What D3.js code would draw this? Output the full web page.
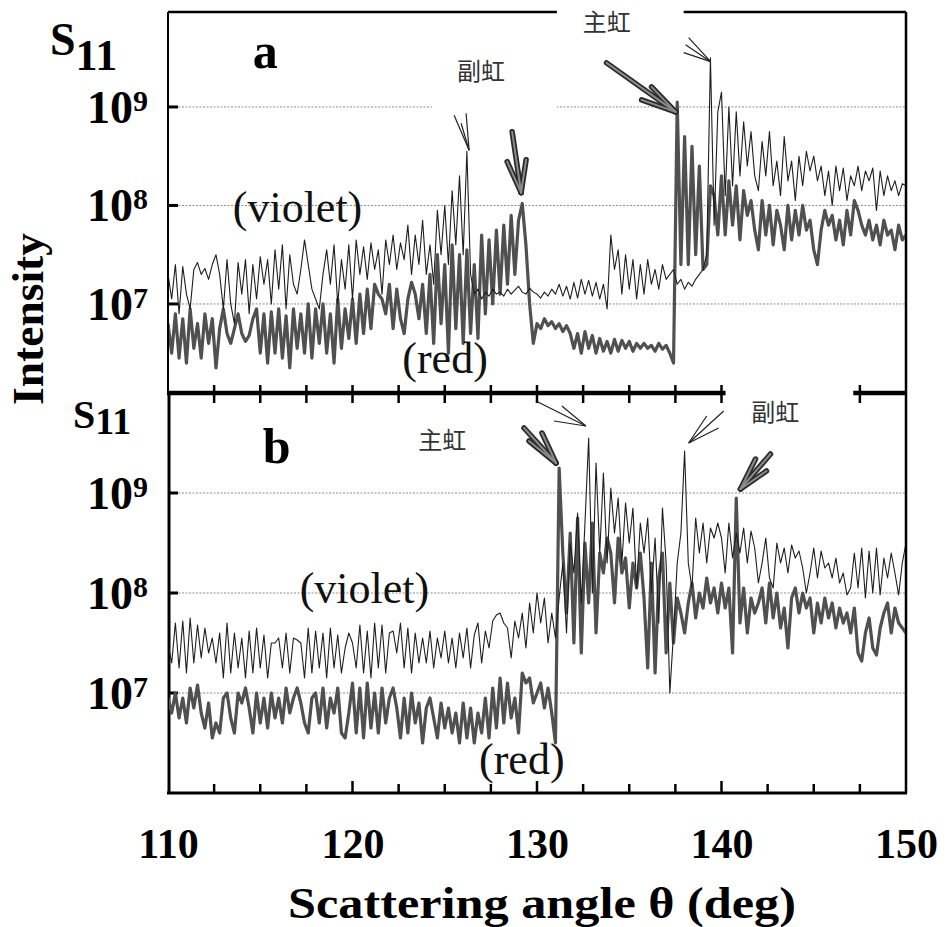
<!DOCTYPE html>
<html><head><meta charset="utf-8">
<script src="https://cdn.jsdelivr.net/npm/d3@7"></script>
<style>body{margin:0;background:#fff}</style>
</head><body>
<svg id="chart" width="946" height="927"></svg>
<script>
// ---------- DATA (log10 of S11 intensity, sampled every 0.2 deg from 110 to 150) ----------
const angleStart = 110, angleStep = 0.2;

const violetA_log10 = [
 7.30,7.05,7.40,6.90,7.38,7.10,6.95,7.35,7.42,7.30,
 7.36,7.25,7.40,7.50,7.30,6.95,7.45,7.00,6.80,7.42,
 7.10,7.45,6.90,7.40,7.05,7.48,7.20,7.45,7.00,7.55,
 7.15,7.60,6.95,7.50,7.20,7.10,7.35,7.65,7.40,7.15,
 7.05,6.95,7.30,7.55,7.20,7.60,7.00,7.45,7.15,7.60,
 7.05,7.65,7.30,7.58,7.25,7.62,7.35,7.55,7.10,7.65,
 7.40,7.70,7.35,7.62,7.45,7.80,7.30,7.70,7.40,7.85,
 7.30,7.60,7.20,7.95,7.50,8.00,7.40,8.15,7.60,8.30,
 7.50,8.55,7.30,7.10,7.15,7.05,7.12,7.08,7.15,7.10,
 7.12,7.08,7.15,7.10,7.14,7.18,7.12,7.10,7.16,7.12,
 7.10,7.06,7.12,7.08,7.15,7.10,7.20,7.08,7.18,7.05,
 7.22,7.06,7.25,7.10,7.24,7.08,7.22,7.05,7.20,6.95,
 7.70,7.35,7.55,7.10,7.50,7.15,7.45,7.05,7.40,7.10,
 7.45,7.20,7.35,7.15,7.40,7.25,7.30,7.35,7.20,7.25,
 7.15,7.22,7.18,7.25,7.30,7.35,7.50,9.50,7.80,8.95,
 9.15,8.10,9.00,8.20,8.95,8.30,8.85,8.40,8.75,8.30,
 8.15,8.65,8.30,8.75,8.20,8.45,8.10,8.70,8.25,8.45,
 8.05,8.50,8.20,8.55,8.35,8.50,8.25,8.40,8.10,8.35,
 8.00,8.40,8.15,8.38,8.05,8.30,8.20,8.40,8.15,8.35,
 8.25,8.38,7.95,8.35,8.10,8.30,8.15,8.25,8.10,8.22,
 8.20
];
const redA_log10 = [
 6.80,6.50,6.90,6.45,6.85,6.40,6.95,6.55,6.80,6.45,
 6.90,6.60,6.85,6.35,6.75,6.95,6.70,6.60,6.75,6.90,
 6.70,6.62,6.68,6.85,6.95,6.50,6.90,6.40,6.92,6.50,
 6.95,6.45,6.88,6.35,6.95,6.55,6.90,6.50,7.00,6.45,
 6.95,6.60,7.00,6.50,6.90,6.40,7.05,6.55,6.95,6.65,
 7.05,6.60,7.10,6.70,7.15,6.75,7.20,7.10,7.05,6.90,
 7.20,6.75,7.15,6.85,6.70,7.05,7.22,7.10,6.85,7.20,
 6.70,7.30,6.60,7.50,6.80,7.40,6.50,7.60,6.75,7.50,
 6.60,7.55,6.70,7.40,6.65,7.70,6.90,7.65,7.00,7.75,
 7.10,7.80,7.20,7.90,7.30,7.85,8.02,7.60,7.00,6.60,
 6.80,6.75,6.85,6.78,6.82,6.75,6.80,6.72,6.78,6.70,
 6.55,6.70,6.50,6.72,6.55,6.68,6.50,6.65,6.52,6.62,
 6.50,6.64,6.52,6.63,6.55,6.62,6.52,6.60,6.55,6.60,
 6.55,6.58,6.52,6.60,6.54,6.58,6.50,6.40,9.05,7.40,
 8.70,7.40,8.60,7.50,8.40,7.35,7.40,8.20,8.10,7.70,
 8.30,7.70,8.25,7.80,8.20,7.65,8.15,7.90,8.05,7.75,
 7.55,8.05,7.70,8.00,7.60,7.95,7.80,7.55,8.00,7.65,
 7.95,7.70,8.00,7.75,7.85,7.55,7.40,7.75,7.95,7.80,
 7.90,7.65,7.85,7.60,7.95,7.70,8.05,7.95,7.80,7.70,
 7.85,7.65,7.80,7.60,7.85,7.70,7.75,7.55,7.80,7.65,
 7.70
];
const violetB_log10 = [
 7.50,7.30,7.70,7.25,7.72,7.20,7.75,7.30,7.68,7.35,
 7.65,7.40,7.55,7.30,7.60,7.15,7.70,7.20,7.60,7.25,
 7.55,7.15,7.62,7.20,7.65,7.25,7.58,7.15,7.50,7.50,
 7.55,7.25,7.60,7.20,7.55,7.53,7.50,7.15,7.65,7.20,
 7.62,7.25,7.60,7.15,7.65,7.25,7.58,7.20,7.45,7.60,
 7.50,7.25,7.68,7.20,7.62,7.15,7.70,7.25,7.68,7.20,
 7.60,7.62,7.40,7.70,7.25,7.65,7.20,7.60,7.30,7.55,
 7.30,7.62,7.25,7.55,7.35,7.62,7.30,7.55,7.25,7.60,
 7.35,7.65,7.25,7.58,7.70,7.30,7.62,7.45,7.72,7.78,
 7.80,7.70,7.65,7.35,7.72,7.55,7.80,7.45,7.90,7.60,
 8.00,7.70,7.95,7.50,7.80,7.55,7.95,8.30,7.60,8.50,
 8.20,8.80,7.90,8.70,9.55,8.00,9.30,8.40,9.20,8.30,
 9.05,8.60,8.95,8.30,8.90,8.50,8.85,8.05,8.70,8.40,
 8.75,8.00,8.55,7.70,8.85,8.30,7.00,7.60,8.30,8.60,
 9.42,8.30,8.05,8.75,8.40,8.70,8.30,8.65,8.55,8.70,
 8.55,8.20,8.70,8.35,8.60,8.40,8.65,8.30,8.62,8.45,
 8.10,8.30,8.55,8.15,8.05,8.50,8.30,8.45,8.20,8.48,
 8.35,8.42,8.25,8.00,8.20,8.45,8.15,8.42,8.25,8.30,
 8.15,8.35,8.10,8.20,7.98,8.05,8.40,8.05,8.45,7.95,
 8.42,8.00,8.45,7.98,8.35,8.15,8.40,8.20,7.98,8.30,
 8.50
];
const redB_log10 = [
 6.95,6.80,7.00,6.75,6.95,6.70,7.05,6.85,7.08,6.80,
 6.65,6.90,6.55,6.70,6.60,6.95,7.00,6.75,6.60,7.00,
 6.90,7.05,6.85,6.60,7.00,6.70,6.95,6.65,7.00,6.75,
 6.95,6.70,7.05,6.80,6.95,7.05,6.90,6.70,6.60,6.95,
 7.00,6.70,7.05,6.65,6.95,6.80,7.05,6.60,6.55,6.80,
 7.10,6.60,7.05,6.55,7.10,6.65,7.00,6.60,7.05,6.70,
 6.95,7.05,6.85,6.55,6.95,6.60,7.00,6.70,6.90,6.50,
 6.85,6.95,6.75,6.55,6.90,6.65,6.85,6.60,6.80,6.50,
 6.90,6.55,6.85,6.50,6.80,6.60,6.95,6.55,7.05,6.65,
 7.15,6.70,7.10,6.75,6.95,6.60,7.20,7.10,7.15,6.90,
 7.00,7.10,6.85,7.05,6.80,6.50,9.25,8.40,7.80,8.60,
 7.50,8.75,7.40,8.50,7.90,8.70,7.60,8.40,8.20,8.55,
 8.40,7.90,8.55,8.20,8.35,7.85,8.30,8.05,8.40,7.95,
 7.25,8.30,7.20,8.15,8.40,7.40,8.10,7.50,7.95,7.80,
 7.60,7.90,8.10,7.75,8.00,7.85,8.15,7.90,8.05,7.80,
 8.10,7.85,8.05,7.40,8.95,7.70,8.05,7.60,7.95,7.80,
 7.90,8.05,7.70,8.10,7.75,8.00,7.65,7.85,7.45,7.95,
 8.05,7.80,8.00,7.85,7.95,7.60,7.90,7.70,7.95,7.75,
 7.90,7.65,7.85,7.70,7.80,7.60,7.85,7.40,7.32,7.60,
 7.75,7.45,7.38,7.65,7.80,7.90,7.60,7.85,7.70,7.65,
 7.60
];

const xTickValues = [110, 120, 130, 140, 150];
const xMinorStep = 2.5;
const yTickExponents = [7, 8, 9];
const seriesNames = ["(violet)", "(red)"];
const panelLetters = ["a", "b"];
const rainbowNames = { primary: "主虹", secondary: "副虹" };
const xTitle = "Scattering angle θ (deg)";
const yTitle = "Intensity";

// ---------- LAYOUT ----------
const svg = d3.select("#chart");
const serif = "'Liberation Serif','Times New Roman',serif";
const cjk = "'Noto Sans CJK SC','Noto Sans CJK JP',sans-serif";
const x = d3.scaleLinear().domain([110, 150]).range([168, 906]);

const panels = [
  { letter: panelLetters[0], exp: [6.096, 9.964], range: [393, 12],
    violet: violetA_log10, red: redA_log10,
    letterPos: [114.59, 9.40], violetPos: [113.51, 7.83], redPos: [122.70, 6.30],
    s11: { x: 50, base: 55, s: 46, sub: 44, subDy: 15 },
    labels: [
      { text: rainbowNames.primary, at: [133.78, 9.86], box: [131.08, 137.95, 10.2, 9.68] },
      { text: rainbowNames.secondary, at: [126.97, 9.36], box: [124.32, 131.08, 9.58, 8.95] }
    ],
    arrows: [
      { kind: "thin", tip: [126.32, 8.56], tails: [[-15, -35], [-3, -37], [-8, -27]] },
      { kind: "thick", tip: [129.14, 8.13], tail: [-9, -61], barbs: [[-14, -31], [5, -33]] },
      { kind: "thick", tip: [137.51, 8.95], tail: [-69, -49], barbs: [[-24, -25], [-34, -12]] },
      { kind: "thin", tip: [139.41, 9.46], tails: [[-22, -24], [-27, -9], [-25, -17]] }
    ] },
  { letter: panelLetters[1], exp: [6, 10], range: [793, 393],
    violet: violetB_log10, red: redB_log10,
    letterPos: [115.14, 9.30], violetPos: [117.14, 7.90], redPos: [126.86, 6.19],
    s11: { x: 73, base: 428, s: 40, sub: 38, subDy: 6 },
    labels: [
      { text: rainbowNames.primary, at: [124.86, 9.53], box: null },
      { text: rainbowNames.secondary, at: [142.92, 9.81], box: [140.22, 147.14, 10.09, 9.64] }
    ],
    arrows: [
      { kind: "thick", tip: [131.03, 9.30], tail: [-32, -35], barbs: [[-14, -30], [-27, -22]] },
      { kind: "thin", tip: [132.65, 9.67], tails: [[-50, -25], [-24, -20], [-32, -5]] },
      { kind: "thin", tip: [138.22, 9.50], tails: [[35, -32], [18, -27], [30, -15]] },
      { kind: "thick", tip: [141.03, 9.04], tail: [30, -35], barbs: [[15, -30], [26, -18]] }
    ] }
];

const angles = violetA_log10.map((_, i) => +(angleStart + i * angleStep).toFixed(2));
const minorTicks = d3.range(110, 150.001, xMinorStep);

panels.forEach((p, pi) => {
  const y = d3.scaleLog().domain([Math.pow(10, p.exp[0]), Math.pow(10, p.exp[1])]).range(p.range);
  const Y = v => y(Math.pow(10, v));
  const g = svg.append("g");
  const top = p.range[1], bot = p.range[0];

  // gridlines
  g.selectAll(".grid").data(yTickExponents).join("line")
    .attr("x1", x(110)).attr("x2", x(150))
    .attr("y1", e => Y(e)).attr("y2", e => Y(e))
    .attr("stroke", "#8c8c8c").attr("stroke-width", 1).attr("stroke-dasharray", "2,1.5");

  // frame
  if (pi === 0) {
    g.append("line").attr("x1", x(110)).attr("x2", x(150)).attr("y1", top).attr("y2", top)
      .attr("stroke", "#000").attr("stroke-width", 2.5);
    g.append("line").attr("x1", x(110)).attr("x2", x(110)).attr("y1", top).attr("y2", bot)
      .attr("stroke", "#000").attr("stroke-width", 2);
  } else {
    g.append("line").attr("x1", x(110) + 1).attr("x2", x(110) + 1).attr("y1", top).attr("y2", bot)
      .attr("stroke", "#000").attr("stroke-width", 3);
  }
  g.append("line").attr("x1", x(150)).attr("x2", x(150)).attr("y1", top).attr("y2", bot)
    .attr("stroke", "#000").attr("stroke-width", 2.5);
  g.append("line").attr("x1", x(110) - 1).attr("x2", x(150) + 1).attr("y1", bot).attr("y2", bot)
    .attr("stroke", "#000").attr("stroke-width", pi === 0 ? 4.5 : 3);

  // x ticks
  g.selectAll(".xt").data(minorTicks.filter(t => t > 110 && t < 150)).join("line")
    .attr("x1", t => x(t)).attr("x2", t => x(t))
    .attr("y1", t => pi === 0 ? bot - 8 : bot - (t % 10 === 0 ? 12 : 9))
    .attr("y2", t => pi === 0 ? bot + 10 : bot)
    .attr("stroke", "#000").attr("stroke-width", 2.5);

  // y ticks
  g.selectAll(".yt").data(yTickExponents).join("line")
    .attr("x1", x(110)).attr("x2", x(110) + 10)
    .attr("y1", e => Y(e)).attr("y2", e => Y(e))
    .attr("stroke", "#000").attr("stroke-width", 3);

  // y tick labels 10^n
  const yl = g.selectAll(".yl").data(yTickExponents).join("text")
    .attr("x", 148).attr("y", e => Y(e) + 16).attr("text-anchor", "end")
    .attr("font-family", serif).attr("font-weight", "bold").attr("font-size", 46);
  yl.append("tspan").text("10");
  yl.append("tspan").text(e => e).attr("font-size", 30).attr("dy", -12);

  // S11
  const s = g.append("text").attr("x", p.s11.x).attr("y", p.s11.base)
    .attr("font-family", serif).attr("font-weight", "bold").attr("font-size", p.s11.s);
  s.append("tspan").text("S");
  s.append("tspan").text("11").attr("font-size", p.s11.sub).attr("dy", p.s11.subDy);

  // label boxes (white) that break frame/grid
  p.labels.filter(l => l.box).forEach(l => {
    const [t0, t1, l0, l1] = l.box;
    g.append("rect").attr("x", x(t0)).attr("width", x(t1) - x(t0))
      .attr("y", Y(l0)).attr("height", Y(l1) - Y(l0)).attr("fill", "#fff");
  });

  // series
  const clipId = "clip" + pi;
  svg.append("clipPath").attr("id", clipId).append("rect")
    .attr("x", x(110) + 1).attr("y", top + 1).attr("width", x(150) - x(110) - 2).attr("height", bot - top - 2);
  const line = d3.line().x((d, i) => x(angles[i])).y(d => Y(d));
  g.append("path").datum(p.red).attr("d", line).attr("clip-path", `url(#${clipId})`)
    .attr("fill", "none").attr("stroke", "#505050").attr("stroke-width", 3.2).attr("stroke-linejoin", "round");
  g.append("path").datum(p.violet).attr("d", line).attr("clip-path", `url(#${clipId})`)
    .attr("fill", "none").attr("stroke", "#1e1e1e").attr("stroke-width", 1.1).attr("stroke-linejoin", "round");

  // texts
  g.append("text").attr("x", x(p.letterPos[0])).attr("y", Y(p.letterPos[1]))
    .attr("font-family", serif).attr("font-weight", "bold").attr("font-size", 50).text(p.letter);
  g.append("text").attr("x", x(p.violetPos[0])).attr("y", Y(p.violetPos[1]))
    .attr("font-family", serif).attr("font-size", 44).attr("fill", "#111").text(seriesNames[0]);
  g.append("text").attr("x", x(p.redPos[0])).attr("y", Y(p.redPos[1]))
    .attr("font-family", serif).attr("font-size", 44).attr("fill", "#111").text(seriesNames[1]);
  p.labels.forEach(l => {
    g.append("text").attr("x", x(l.at[0])).attr("y", Y(l.at[1])).attr("dy", "0.36em")
      .attr("text-anchor", "middle").attr("font-family", cjk).attr("font-size", 24)
      .attr("fill", "#333").text(l.text);
  });

  // arrows
  p.arrows.forEach(a => {
    const tx = x(a.tip[0]), ty = Y(a.tip[1]);
    if (a.kind === "thin") {
      a.tails.forEach(([dx, dy]) => g.append("line").attr("x1", tx).attr("y1", ty)
        .attr("x2", tx + dx).attr("y2", ty + dy).attr("stroke", "#222").attr("stroke-width", 1.2));
    } else {
      const segs = [a.tail, ...a.barbs];
      [["#2a2a2a", 5.5], ["#8a8a8a", 2]].forEach(([c, w]) => {
        segs.forEach(([dx, dy]) => g.append("line").attr("x1", tx).attr("y1", ty)
          .attr("x2", tx + dx).attr("y2", ty + dy).attr("stroke", c).attr("stroke-width", w)
          .attr("stroke-linecap", "round"));
      });
    }
  });
});

// x tick labels
const xAxis = d3.axisBottom(x).tickValues(xTickValues).tickSize(0).tickPadding(0).tickFormat(d3.format("d"));
const xa = svg.append("g").attr("transform", "translate(0,858)").call(xAxis);
xa.select(".domain").remove();
xa.selectAll("text").attr("dy", 0).attr("y", 0)
  .attr("font-family", serif).attr("font-weight", "bold").attr("font-size", 42).attr("fill", "#000");

// axis titles
svg.append("text").attr("x", 542).attr("y", 918).attr("text-anchor", "middle")
  .attr("font-family", serif).attr("font-weight", "bold").attr("font-size", 44)
  .attr("textLength", 508).attr("lengthAdjust", "spacingAndGlyphs").text(xTitle);
svg.append("text").attr("transform", "translate(43,319) rotate(-90)").attr("text-anchor", "middle")
  .attr("font-family", serif).attr("font-weight", "bold").attr("font-size", 44)
  .attr("textLength", 172).attr("lengthAdjust", "spacingAndGlyphs").text(yTitle);
</script>
</body></html>
